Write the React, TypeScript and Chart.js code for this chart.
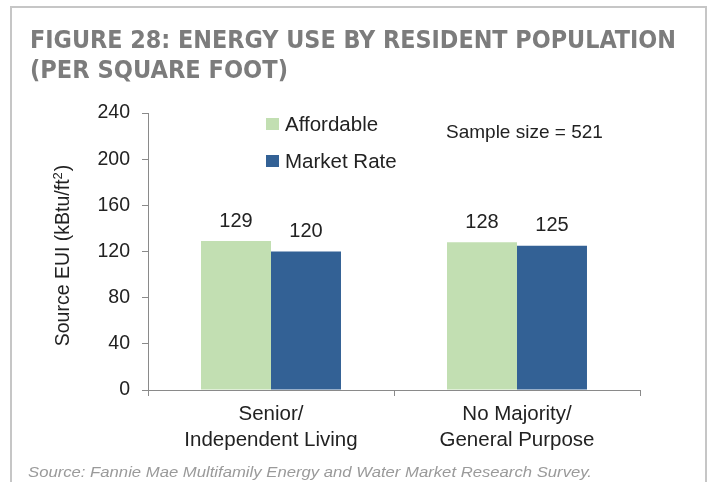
import React, { useEffect, useRef } from "react";
import { Chart, registerables } from "chart.js";

Chart.register(...registerables);

const categories: string[][] = [
  ["Senior/", "Independent Living"],
  ["No Majority/", "General Purpose"],
];
const affordable: number[] = [129, 128];
const marketRate: number[] = [120, 125];
const seriesNames: string[] = ["Affordable", "Market Rate"];
const yMin = 0;
const yMax = 240;
const yStep = 40;
const titleLines: string[] = [
  "FIGURE 28: ENERGY USE BY RESIDENT POPULATION",
  "(PER SQUARE FOOT)",
];
const sampleNote = "Sample size = 521";
const yTitleMain = "Source EUI (kBtu/ft";
const yTitleSup = "2";
const yTitleEnd = ")";
const sourceNote =
  "Source: Fannie Mae Multifamily Energy and Water Market Research Survey.";

const FONT = "'Liberation Sans', Arial, sans-serif";
const GREEN = "#c2dfb2";
const BLUE = "#336195";
const TEXT = "#222222";
const AXIS = "#8a8a8a";

const overlayPlugin = {
  id: "overlay",
  afterDatasetsDraw(chart: any) {
    const ctx = chart.ctx as CanvasRenderingContext2D;
    ctx.save();
    // data labels
    ctx.font = `20px ${FONT}`;
    ctx.fillStyle = TEXT;
    ctx.textAlign = "center";
    ctx.textBaseline = "middle";
    chart.data.datasets.forEach((ds: any, di: number) => {
      const meta = chart.getDatasetMeta(di);
      meta.data.forEach((el: any, i: number) => {
        ctx.fillText(String(ds.data[i]), el.x, el.y - 20);
      });
    });
    // legend
    const legendY = [124, 161];
    chart.data.datasets.forEach((ds: any, di: number) => {
      const cy = legendY[di];
      ctx.fillStyle = ds.backgroundColor;
      ctx.fillRect(266, cy - 6, 13, 12);
      ctx.fillStyle = TEXT;
      ctx.font = `20.5px ${FONT}`;
      ctx.textAlign = "left";
      ctx.textBaseline = "middle";
      ctx.fillText(ds.label, 285, cy + 1);
    });
    // sample size
    ctx.font = `19px ${FONT}`;
    ctx.fillStyle = TEXT;
    ctx.textAlign = "left";
    ctx.textBaseline = "middle";
    ctx.fillText(sampleNote, 446, 133);
    // y title
    const area = chart.chartArea;
    const cy = (area.top + area.bottom) / 2 + 4;
    ctx.translate(64, cy);
    ctx.rotate(-Math.PI / 2);
    ctx.font = `19.5px ${FONT}`;
    const w1 = ctx.measureText(yTitleMain).width;
    ctx.font = `13px ${FONT}`;
    const w2 = ctx.measureText(yTitleSup).width;
    ctx.font = `19.5px ${FONT}`;
    const w3 = ctx.measureText(yTitleEnd).width;
    const total = w1 + w2 + 1 + w3;
    let x = -total / 2;
    ctx.textAlign = "left";
    ctx.textBaseline = "middle";
    ctx.fillText(yTitleMain, x, 0);
    x += w1;
    ctx.font = `13px ${FONT}`;
    ctx.fillText(yTitleSup, x, -6);
    x += w2 + 1;
    ctx.font = `19.5px ${FONT}`;
    ctx.fillText(yTitleEnd, x, 0);
    ctx.restore();
  },
};

export default function App() {
  const ref = useRef<HTMLCanvasElement>(null);

  useEffect(() => {
    if (!ref.current) return;
    const chart = new Chart(ref.current, {
      type: "bar",
      data: {
        labels: categories,
        datasets: [
          {
            label: seriesNames[0],
            data: affordable,
            backgroundColor: GREEN,
            borderWidth: 0,
            categoryPercentage: 0.569,
            barPercentage: 1,
          },
          {
            label: seriesNames[1],
            data: marketRate,
            backgroundColor: BLUE,
            borderWidth: 0,
            categoryPercentage: 0.569,
            barPercentage: 1,
          },
        ],
      },
      options: {
        responsive: false,
        animation: false,
        devicePixelRatio: 1,
        layout: { padding: { left: 48, right: 72, top: 113, bottom: 32 } },
        plugins: {
          legend: { display: false },
          tooltip: { enabled: false },
          title: { display: false },
        },
        scales: {
          x: {
            offset: true,
            grid: {
              display: true,
              offset: true,
              drawOnChartArea: false,
              drawTicks: true,
              tickLength: 6,
              color: AXIS,
            },
            border: { display: true, color: AXIS, width: 1 },
            ticks: {
              color: TEXT,
              font: { family: FONT, size: 20.5, lineHeight: 1.28 },
              padding: 5,
              maxRotation: 0,
              autoSkip: false,
            },
            afterFit(scale: any) {
              scale.height = 60;
            },
          },
          y: {
            min: yMin,
            max: yMax,
            grid: {
              display: true,
              drawOnChartArea: false,
              drawTicks: true,
              tickLength: 6,
              color: AXIS,
            },
            border: { display: true, color: AXIS, width: 1 },
            ticks: {
              stepSize: yStep,
              color: TEXT,
              font: { family: FONT, size: 19.5 },
              padding: 12,
            },
            afterFit(scale: any) {
              scale.width = 100;
            },
          },
        },
      },
      plugins: [overlayPlugin],
    });
    return () => chart.destroy();
  }, []);

  return (
    <div
      style={{
        position: "fixed",
        left: 0,
        top: 0,
        width: 712,
        height: 482,
        background: "#ffffff",
        overflow: "hidden",
      }}
    >
      <div
        style={{
          position: "absolute",
          left: 10,
          top: 6,
          width: 693,
          height: 520,
          border: "2px solid #c6c6c6",
          boxSizing: "content-box",
        }}
      />
      <canvas
        ref={ref}
        width={712}
        height={482}
        style={{ position: "absolute", left: 0, top: 0, width: 712, height: 482 }}
      />
      <svg
        width={712}
        height={482}
        style={{ position: "absolute", left: 0, top: 0, pointerEvents: "none" }}
      >
        <text
          x={30}
          y={48}
          fontFamily="'DejaVu Sans Condensed', 'DejaVu Sans', sans-serif"
          fontWeight="bold"
          fontSize={25}
          fill="#7c7c7c"
          textLength={646}
          lengthAdjust="spacingAndGlyphs"
        >
          {titleLines[0]}
        </text>
        <text
          x={30}
          y={78}
          fontFamily="'DejaVu Sans Condensed', 'DejaVu Sans', sans-serif"
          fontWeight="bold"
          fontSize={25}
          fill="#7c7c7c"
          textLength={258}
          lengthAdjust="spacingAndGlyphs"
        >
          {titleLines[1]}
        </text>
        <text
          x={28}
          y={477}
          fontFamily="'Liberation Sans', Arial, sans-serif"
          fontStyle="italic"
          fontSize={15}
          fill="#9a9a9a"
          textLength={564}
          lengthAdjust="spacingAndGlyphs"
        >
          {sourceNote}
        </text>
      </svg>
    </div>
  );
}
